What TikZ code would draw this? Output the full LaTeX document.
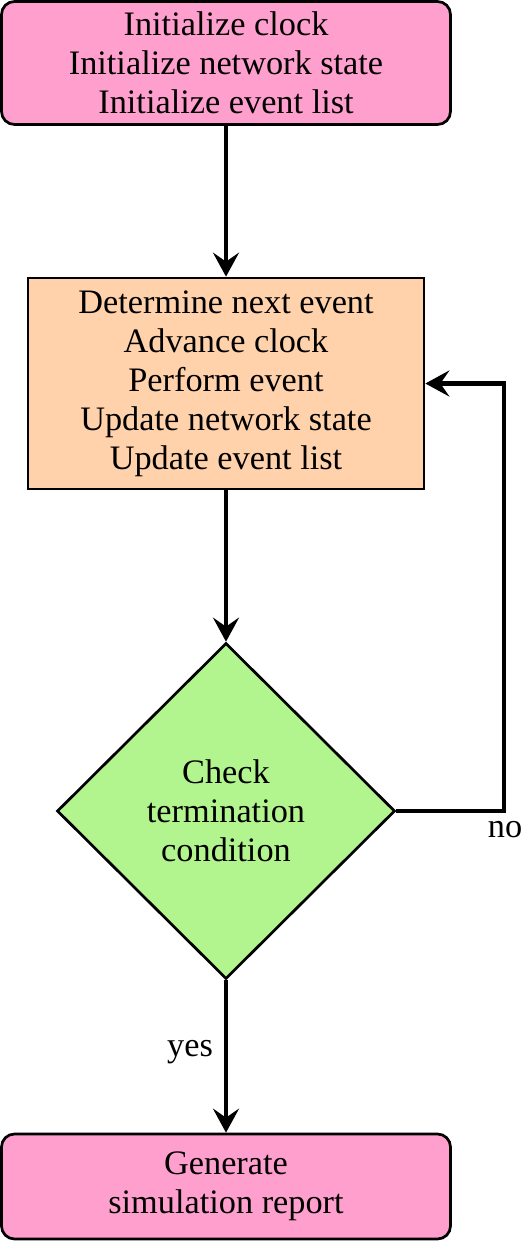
\documentclass[tikz,border=0pt]{standalone}
\usepackage{fontspec}
\setmainfont{Liberation Serif}
\usetikzlibrary{shapes.geometric,arrows.meta}
\definecolor{pinkfill}{RGB}{255,159,206}
\definecolor{peachfill}{RGB}{255,210,172}
\definecolor{greenfill}{RGB}{178,244,142}
\tikzset{
  txt/.style={font=\fontsize{34.3}{39}\selectfont, align=center, inner sep=0pt},
  termbox/.style={txt, draw=black, line width=2.7pt, fill=pinkfill, rounded corners=13pt, rectangle},
  procbox/.style={txt, draw=black, line width=2.7pt, fill=peachfill, rectangle},
  decbox/.style={txt, draw=black, line width=2.7pt, fill=greenfill, diamond},
  conn/.style={line width=4.5pt, -{Stealth[length=24pt,width=26pt,inset=9pt]}},
  lab/.style={font=\fontsize{34.3}{39}\selectfont, inner sep=0pt}
}
\begin{document}
\begin{tikzpicture}[x=1pt,y=-1pt]
\useasboundingbox (0,0) rectangle (520,1241);
\node[termbox, minimum width=449pt, minimum height=123pt] (init) at (226,63)
  {Initialize clock\\Initialize network state\\Initialize event list};
\node[procbox, minimum width=396pt, minimum height=211pt] (proc) at (226,383.5)
  {Determine next event\\Advance clock\\Perform event\\Update network state\\Update event list};
\node[decbox, minimum width=338pt, minimum height=336pt] (dec) at (226,811)
  {Check\\termination\\condition};
\node[termbox, minimum width=449pt, minimum height=105pt] (rep) at (226,1186.5)
  {Generate\\simulation report};
\coordinate (loop) at (504,383.5);
\draw[conn] (init.south) -- (proc.north);
\draw[conn] (proc.south) -- (dec.north);
\draw[conn] (dec.east) -| (loop) -- (proc.east);
\draw[conn] (dec.south) -- (rep.north);
\node[lab] (no) at (505,830) {no};
\node[lab] (yes) at (190,1052) {yes};
\end{tikzpicture}
\end{document}
